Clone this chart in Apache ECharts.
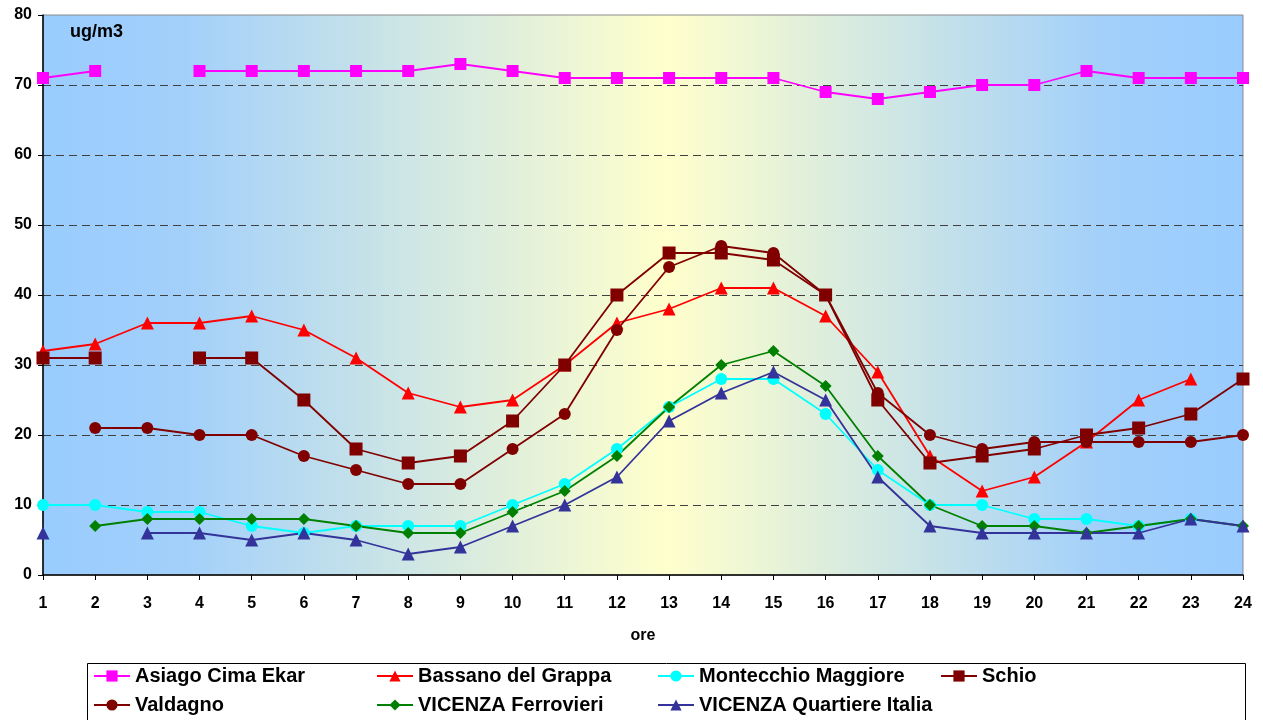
<!DOCTYPE html>
<html>
<head>
<meta charset="utf-8">
<script src="https://cdn.jsdelivr.net/npm/echarts@6/dist/echarts.min.js"></script>
<style>
  html, body { margin: 0; padding: 0; background: #fff; }
  #main { width: 1263px; height: 720px; }
</style>
</head>
<body>
<div id="main"></div>
<script>
  var hours = ['1','2','3','4','5','6','7','8','9','10','11','12','13','14','15','16','17','18','19','20','21','22','23','24'];
  var asiago = [71,72,null,72,72,72,72,72,73,72,71,71,71,71,71,69,68,69,70,70,72,71,71,71];
  var bassano = [32,33,36,36,37,35,31,26,24,25,30,36,38,41,41,37,29,17,12,14,19,25,28,null];
  var montecchio = [10,10,9,9,7,6,7,7,7,10,13,18,24,28,28,23,15,10,10,8,8,7,8,null];
  var schio = [31,31,null,31,31,25,18,16,17,22,30,40,46,46,45,40,25,16,17,18,20,21,23,28];
  var valdagno = [null,21,21,20,20,17,15,13,13,18,23,35,44,47,46,40,26,20,18,19,19,19,19,20];
  var ferrovieri = [null,7,8,8,8,8,7,6,6,9,12,17,24,30,32,27,17,10,7,7,6,7,8,7];
  var quartiere = [6,null,6,6,5,6,5,3,4,7,10,14,22,26,29,25,14,7,6,6,6,6,8,7];

  var chart = echarts.init(document.getElementById('main'));

  function mkSeries(name, data, color, symbol, size) {
    return {
      name: name,
      type: 'line',
      data: data,
      symbol: symbol,
      symbolSize: size,
      connectNulls: false,
      lineStyle: { color: color, width: 1.8 },
      itemStyle: { color: color },
      emphasis: { disabled: true }
    };
  }

  // one legend per entry so the columns line up like the original
  function mkLegend(left, top, name) {
    return {
      left: left,
      top: top,
      padding: 0,
      itemWidth: 36,
      itemHeight: 14,
      data: [name],
      textStyle: { fontFamily: 'Arial', fontWeight: 'bold', fontSize: 20, color: '#000' },
      selectedMode: false
    };
  }

  chart.setOption({
    animation: false,
    grid: {
      left: 43, right: 20, top: 15, bottom: 145,
      show: true,
      borderColor: '#8c8c8c',
      borderWidth: 1,
      backgroundColor: {
        type: 'linear', x: 0, y: 0, x2: 1, y2: 0,
        colorStops: [
          { offset: 0, color: '#99ccff' },
          { offset: 0.12, color: '#a3d0fa' },
          { offset: 0.52, color: '#ffffcc' },
          { offset: 0.88, color: '#a3d0fa' },
          { offset: 1, color: '#99ccff' }
        ]
      }
    },
    legend: [
      mkLegend(93, 666, 'Asiago Cima Ekar'),
      mkLegend(93, 695, 'Valdagno'),
      mkLegend(376, 666, 'Bassano del Grappa'),
      mkLegend(376, 695, 'VICENZA Ferrovieri'),
      mkLegend(657, 666, 'Montecchio Maggiore'),
      mkLegend(657, 695, 'VICENZA Quartiere Italia'),
      mkLegend(940, 666, 'Schio')
    ],
    graphic: [
      { type: 'rect', shape: { x: 87.5, y: 663.5, width: 1158, height: 70 },
        style: { fill: 'none', stroke: '#000', lineWidth: 1 }, z: -1 },
      { type: 'text', left: 70, top: 23,
        style: { text: 'ug/m3', font: 'bold 18px Arial', fill: '#000' } }
    ],
    xAxis: {
      type: 'category',
      data: hours,
      boundaryGap: false,
      name: 'ore',
      nameLocation: 'middle',
      nameGap: 53,
      nameTextStyle: { fontFamily: 'Arial', fontWeight: 'bold', fontSize: 16, color: '#000' },
      axisLine: { lineStyle: { color: '#000', width: 1.5 } },
      axisTick: { show: true, alignWithLabel: true, length: 5, lineStyle: { color: '#000' } },
      axisLabel: { fontFamily: 'Arial', fontWeight: 'bold', fontSize: 16, color: '#000', margin: 21 },
      splitLine: { show: false }
    },
    yAxis: {
      type: 'value',
      min: 0, max: 80, interval: 10,
      axisLine: { show: true, lineStyle: { color: '#000', width: 1.5 } },
      axisTick: { show: true, length: 5, lineStyle: { color: '#000' } },
      axisLabel: { fontFamily: 'Arial', fontWeight: 'bold', fontSize: 16, color: '#000', margin: 11 },
      splitLine: {
        show: true, showMinLine: false, showMaxLine: false,
        lineStyle: { color: '#404040', type: [8, 5], width: 1 }
      }
    },
    series: [
      mkSeries('Asiago Cima Ekar', asiago, '#ff00ff', 'rect', 12),
      mkSeries('Bassano del Grappa', bassano, '#ff0000', 'triangle', 13),
      mkSeries('Montecchio Maggiore', montecchio, '#00ffff', 'circle', 12),
      mkSeries('Schio', schio, '#800000', 'rect', 13),
      mkSeries('Valdagno', valdagno, '#800000', 'circle', 12),
      mkSeries('VICENZA Ferrovieri', ferrovieri, '#008000', 'diamond', 12),
      mkSeries('VICENZA Quartiere Italia', quartiere, '#333399', 'triangle', 13)
    ]
  });
</script>
</body>
</html>
